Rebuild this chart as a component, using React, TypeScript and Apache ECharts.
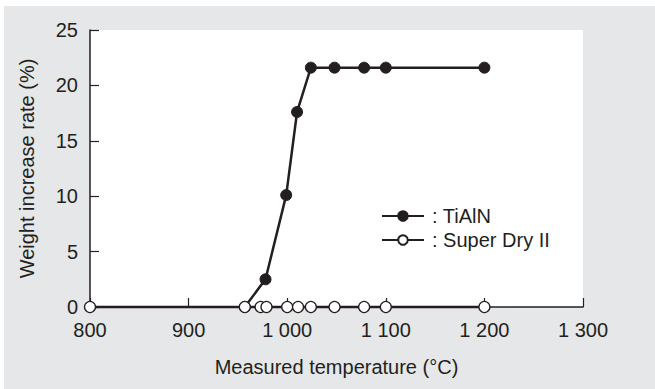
import React, { useEffect, useRef } from "react";
import * as echarts from "echarts";

const xTicks = [800, 900, 1000, 1100, 1200, 1300];
const tialnTemps = [957, 978, 999, 1010, 1024, 1048, 1078, 1100, 1200];
const tialnValues = [0, 2.5, 10.1, 17.6, 21.6, 21.6, 21.6, 21.6, 21.6];
const superDryTemps = [800, 957, 973, 979, 1000, 1011, 1024, 1048, 1078, 1100, 1200];
const superDryValues = [0, 0, 0, 0, 0, 0, 0, 0, 0, 0, 0];
const seriesNames = ["TiAlN", "Super Dry II"];
const xTitle = "Measured temperature (°C)";
const yTitle = "Weight increase rate (%)";

const INK = "#231f20";
const FONT = "'Liberation Sans', Arial, Helvetica, sans-serif";
const FS = 20;

export default function App() {
  const ref = useRef<HTMLDivElement>(null);
  useEffect(() => {
    if (!ref.current) return;
    const chart = echarts.init(ref.current, undefined, { renderer: "svg" });
    const fmtX = (v: number) => {
      const s = String(Math.round(v));
      return s.length > 3 ? s.slice(0, s.length - 3) + " " + s.slice(-3) : s;
    };
    chart.setOption({
      animation: false,
      backgroundColor: "#e6e7e8",
      textStyle: { fontFamily: FONT, color: INK },
      grid: {
        left: 86,
        top: 24,
        width: 493,
        height: 277,
        show: true,
        backgroundColor: "#ffffff",
        borderWidth: 0,
      },
      legend: {
        orient: "vertical",
        left: 377,
        top: 200,
        padding: 0,
        itemWidth: 42,
        itemHeight: 12,
        itemGap: 4,
        formatter: ": {name}",
        data: seriesNames,
        textStyle: { fontFamily: FONT, fontSize: FS, color: INK, padding: [0, 0, 0, 3] },
      },
      xAxis: {
        type: "value",
        min: xTicks[0],
        max: xTicks[xTicks.length - 1],
        interval: 100,
        name: xTitle,
        nameLocation: "middle",
        nameGap: 50,
        nameTextStyle: { fontSize: FS, color: INK, fontFamily: FONT },
        axisLine: { show: true, lineStyle: { color: INK, width: 1.5 } },
        axisTick: { show: true, inside: true, length: 9, lineStyle: { color: INK, width: 1.2 } },
        axisLabel: { formatter: fmtX, fontSize: FS, color: INK, margin: 13, fontFamily: FONT },
        splitLine: { show: false },
      },
      yAxis: {
        type: "value",
        min: 0,
        max: 25,
        interval: 5,
        name: yTitle,
        nameLocation: "middle",
        nameGap: 53,
        nameTextStyle: { fontSize: FS, color: INK, fontFamily: FONT },
        axisLine: { show: true, lineStyle: { color: INK, width: 1.5 } },
        axisTick: { show: true, inside: true, length: 9, lineStyle: { color: INK, width: 1.2 } },
        axisLabel: { fontSize: FS, color: INK, margin: 12, fontFamily: FONT },
        splitLine: { show: false },
      },
      series: [
        {
          name: seriesNames[0],
          type: "line",
          data: tialnTemps.map((t, i) => [t, tialnValues[i]]),
          symbol: "circle",
          symbolSize: 11,
          clip: false,
          z: 2,
          lineStyle: { color: INK, width: 2.5 },
          itemStyle: { color: INK, borderColor: INK, borderWidth: 1 },
        },
        {
          name: seriesNames[1],
          type: "line",
          data: superDryTemps.map((t, i) => [t, superDryValues[i]]),
          symbol: "circle",
          symbolSize: 11,
          clip: false,
          z: 3,
          lineStyle: { color: INK, width: 2.5 },
          itemStyle: { color: "#ffffff", borderColor: INK, borderWidth: 1.3 },
        },
      ],
    });
    return () => chart.dispose();
  }, []);
  return (
    <div style={{ position: "fixed", left: 0, top: 0, width: 655, height: 389, background: "#ffffff" }}>
      <div ref={ref} style={{ position: "absolute", left: 4, top: 6, width: 651, height: 383 }} />
    </div>
  );
}
